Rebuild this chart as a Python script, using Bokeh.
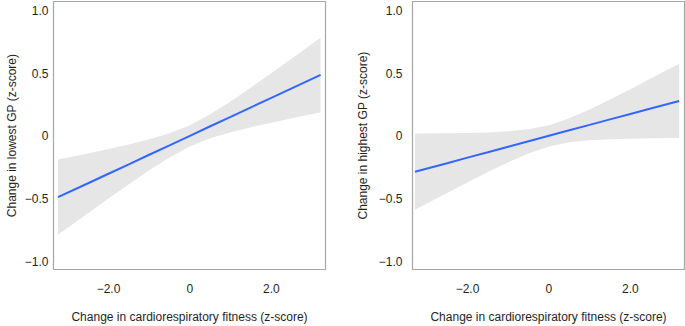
from bokeh.plotting import figure
from bokeh.layouts import row
from bokeh.models import Range1d, FixedTicker
from bokeh.embed import file_html
from bokeh.resources import INLINE

# ---- data ----
x_low = [-3.24, -2.5, -2.0, -1.5, -1.0, -0.5, 0.0, 0.5, 1.0, 1.5, 2.0, 2.5, 3.21]
fit_low = [-0.489, -0.378, -0.302, -0.227, -0.151, -0.076, 0.0, 0.076, 0.151, 0.227, 0.302, 0.378, 0.485]
upper_low = [-0.189, -0.140, -0.105, -0.069, -0.028, 0.020, 0.085, 0.172, 0.274, 0.385, 0.499, 0.616, 0.782]
lower_low = [-0.789, -0.616, -0.499, -0.385, -0.274, -0.172, -0.085, -0.020, 0.028, 0.069, 0.105, 0.140, 0.188]

x_high = [-3.29, -2.5, -2.0, -1.5, -1.0, -0.5, 0.0, 0.5, 1.0, 1.5, 2.0, 2.5, 3.20]
fit_high = [-0.286, -0.218, -0.174, -0.131, -0.087, -0.044, 0.0, 0.044, 0.087, 0.131, 0.174, 0.218, 0.278]
upper_high = [0.018, 0.020, 0.023, 0.027, 0.036, 0.052, 0.085, 0.140, 0.210, 0.289, 0.371, 0.456, 0.574]
lower_high = [-0.590, -0.456, -0.371, -0.289, -0.210, -0.140, -0.085, -0.052, -0.036, -0.027, -0.023, -0.020, -0.018]

x_ticks = [-2, 0, 2]
x_tick_labels = ["\u22122.0", "0", "2.0"]
y_ticks = [-1, -0.5, 0, 0.5, 1]
y_tick_labels = ["\u22121.0", "\u22120.5", "0", "0.5", "1.0"]

x_title = "Change in cardiorespiratory fitness (z-score)"
y_title_low = "Change in lowest GP (z-score)"
y_title_high = "Change in highest GP (z-score)"

FONT = "Liberation Sans"
TXT = "#1f1f1f"


def make_panel(xs, fit, up, lo, ytitle, width, border_left, y_standoff, title_standoff):
    p = figure(width=width, height=326, output_backend="svg", toolbar_location=None,
               x_range=Range1d(-3.35, 3.33), y_range=Range1d(-1.065, 1.07),
               min_border_left=border_left, min_border_right=width - border_left - 272,
               min_border_top=1, min_border_bottom=52)
    p.varea(x=xs, y1=lo, y2=up, fill_color="#e6e6e6", fill_alpha=1.0)
    p.line(x=xs, y=fit, line_color="#3366ff", line_width=2)
    p.xgrid.visible = False
    p.ygrid.visible = False
    p.outline_line_color = "#a6a6a6"
    p.outline_line_width = 1.2
    p.background_fill_color = "white"
    p.border_fill_color = "white"

    p.xaxis.ticker = FixedTicker(ticks=x_ticks)
    p.xaxis.major_label_overrides = {t: l for t, l in zip(x_ticks, x_tick_labels)}
    p.yaxis.ticker = FixedTicker(ticks=y_ticks)
    p.yaxis.major_label_overrides = {t: l for t, l in zip(y_ticks, y_tick_labels)}
    for ax in (p.xaxis, p.yaxis):
        ax.axis_line_color = None
        ax.major_tick_line_color = None
        ax.minor_tick_line_color = None
        ax.major_tick_out = 0
        ax.major_tick_in = 0
        ax.minor_tick_out = 0
        ax.minor_tick_in = 0
        ax.major_label_text_font = FONT
        ax.major_label_text_font_size = "12px"
        ax.major_label_text_color = TXT
        ax.axis_label_text_font = FONT
        ax.axis_label_text_font_size = "12px"
        ax.axis_label_text_font_style = "normal"
        ax.axis_label_text_color = TXT
    p.xaxis.axis_label = x_title
    p.yaxis.axis_label = ytitle
    p.xaxis.major_label_standoff = 14
    p.xaxis.axis_label_standoff = 14
    p.yaxis.major_label_standoff = y_standoff
    p.yaxis.axis_label_standoff = title_standoff
    return p


p1 = make_panel(x_low, fit_low, upper_low, lower_low, y_title_low, 340, 53, 5, 3)
p2 = make_panel(x_high, fit_high, upper_high, lower_high, y_title_high, 345, 72, 10, 6)

layout = row(p1, p2)
open("out.html", "w").write(file_html(layout, INLINE))
